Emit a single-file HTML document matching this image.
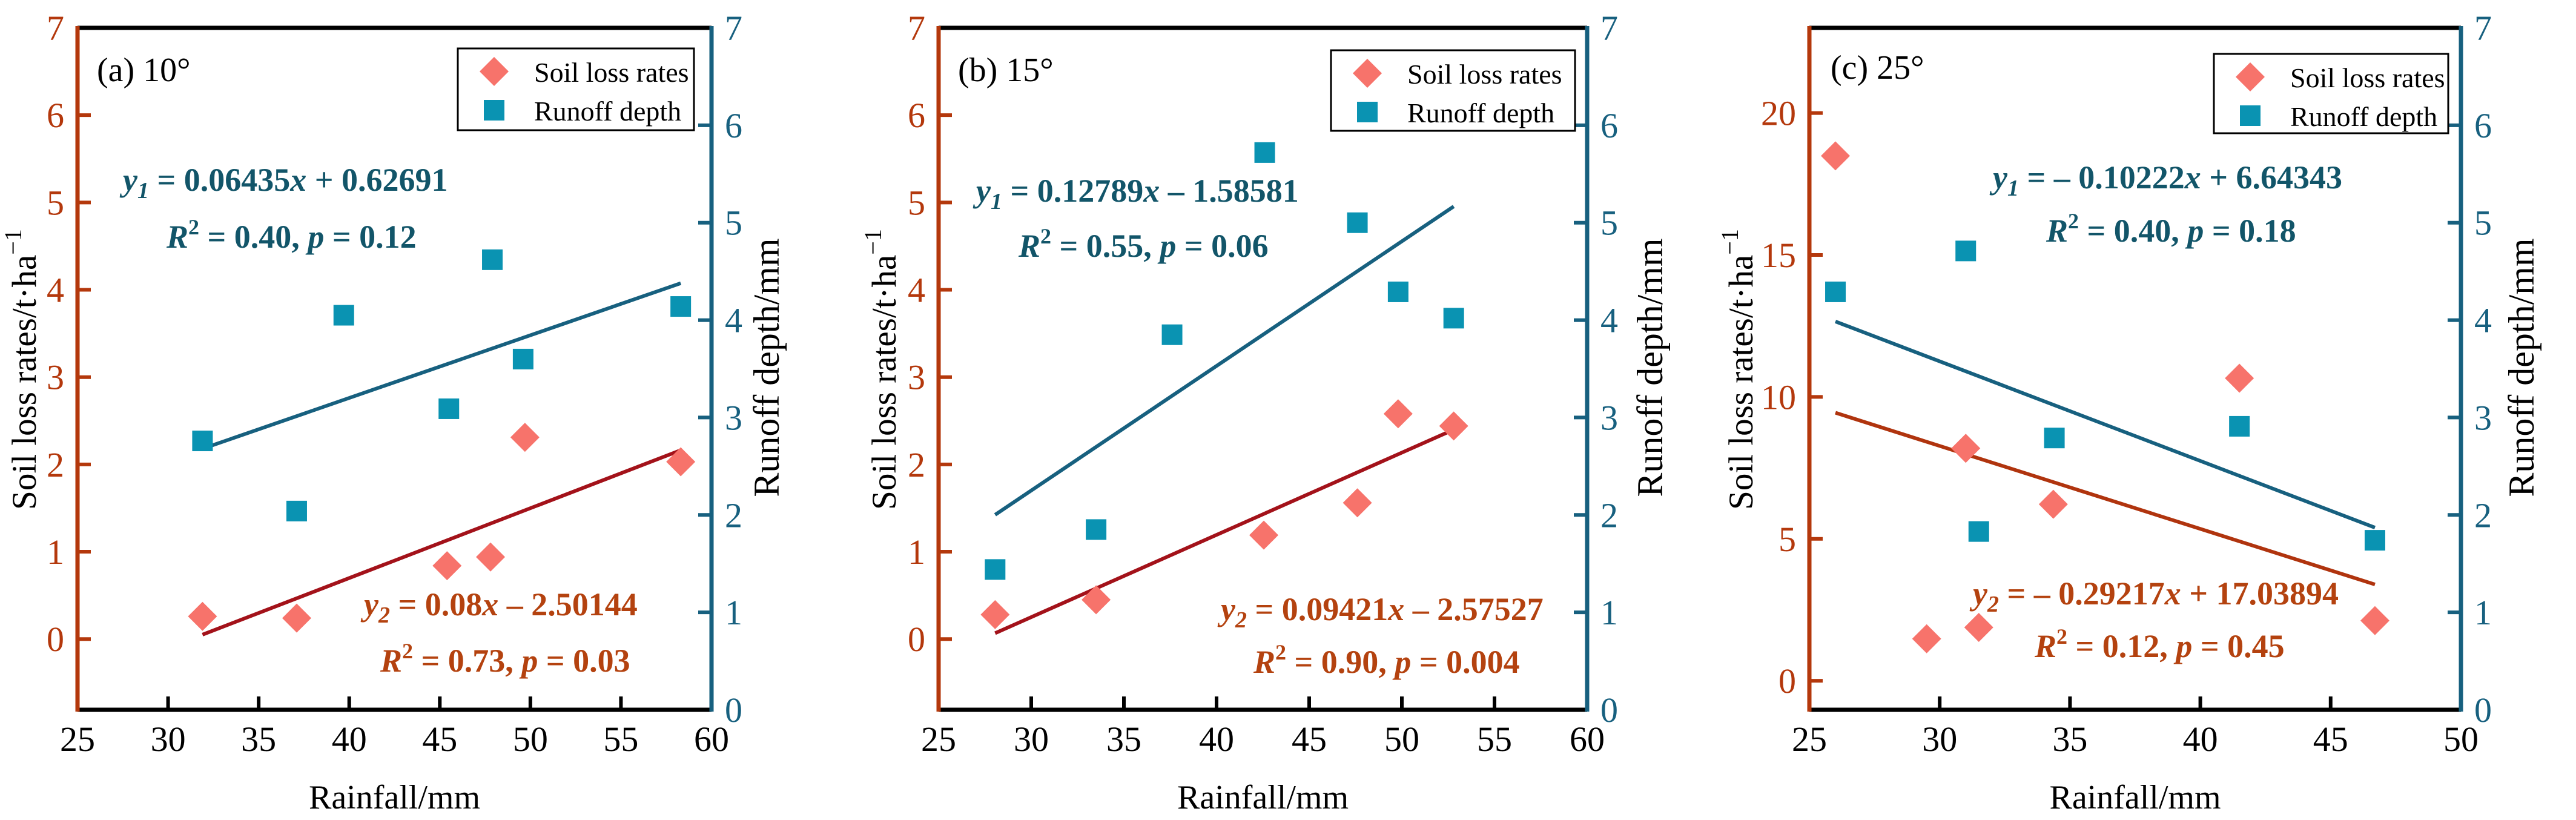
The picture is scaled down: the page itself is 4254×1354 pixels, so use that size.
<!DOCTYPE html>
<html><head><meta charset="utf-8"><style>
html,body{margin:0;padding:0;background:#fff;}
svg, svg text, svg tspan{font-family:"Liberation Serif","Times New Roman","DejaVu Serif",serif !important;}
</style></head><body>
<svg id="fig" width="4254" height="1349" viewBox="0 0 4254 1349" xmlns="http://www.w3.org/2000/svg" font-family="Liberation Serif, Times New Roman, serif"></svg>
<script>
// Panel (a) 10°
const aRainSoil = [31.9, 37.1, 45.4, 47.8, 49.7, 58.3];
const aSoil = [0.26, 0.24, 0.84, 0.94, 2.31, 2.03];
const aRainRun = [31.9, 37.1, 39.7, 45.5, 47.9, 49.6, 58.3];
const aRun = [2.76, 2.04, 4.05, 3.09, 4.62, 3.60, 4.14];
const aFitRun = [0.06435, 0.62691];
const aFitSoil = [0.08, -2.50144];
// Panel (b) 15°
const bRainSoil = [28.05, 33.5, 42.55, 47.6, 49.8, 52.8];
const bSoil = [0.28, 0.45, 1.19, 1.56, 2.58, 2.44];
const bRainRun = [28.05, 33.5, 37.6, 42.6, 47.6, 49.8, 52.8];
const bRun = [1.44, 1.85, 3.85, 5.72, 5.0, 4.29, 4.02];
const bFitRun = [0.12789, -1.58581];
const bFitSoil = [0.09421, -2.57527];
// Panel (c) 25°
const cRainSoil = [26.0, 29.5, 31.0, 31.5, 34.36, 41.5, 46.7];
const cSoil = [18.49, 1.48, 8.19, 1.88, 6.22, 10.66, 2.12];
const cRainRun = [26.0, 31.0, 31.5, 34.4, 41.5, 46.7];
const cRun = [4.29, 4.71, 1.83, 2.79, 2.91, 1.74];
const cFitRun = [-0.10222, 6.64343];
const cFitSoil = [-0.29217, 17.03894];
// Ticks
const abXTicks = [25, 30, 35, 40, 45, 50, 55, 60];
const cXTicks = [25, 30, 35, 40, 45, 50];
const abLeftTicks = [0, 1, 2, 3, 4, 5, 6, 7];
const cLeftTicks = [0, 5, 10, 15, 20];
const rightTicks = [0, 1, 2, 3, 4, 5, 6, 7];

const NS = "http://www.w3.org/2000/svg";
const svg = document.getElementById('fig');
const FONT = "Liberation Serif, Times New Roman, serif";
function mk(tag, attrs, parent, text) {
  const e = document.createElementNS(NS, tag);
  for (const k in attrs) e.setAttribute(k, attrs[k]);
  if (tag === 'text' || tag === 'tspan') e.setAttribute('font-family', FONT);
  if (text !== undefined) e.textContent = text;
  (parent || svg).appendChild(e);
  return e;
}
const ORANGE = "#b4380c", TEAL = "#17607f", DIA = "#f7736b", SQ = "#0a93b2";

const panels = [
  {id:'a', L:128, R:1175, T:46, B:1172, x0:25, x1:60, ly0:-0.81, ly1:7, xt:abXTicks, lt:abLeftTicks,
   rs:aRainSoil, s:aSoil, rr:aRainRun, r:aRun, fr:aFitRun, fs:aFitSoil, soilLine:"#a3121a",
   title:"(a) 10°", tx:160, ty:134, leg:[756,80,1146,215],
   e1:[203,315,"+ 0.62691","0.06435"], e1s:"", r1:[275,409,"0.40","0.12"],
   e2:[601,1016,"– 2.50144","0.08"], e2s:"", r2:[628,1109,"0.73","0.03"],
   yl:39, yr:1266},
  {id:'b', L:1550, R:2621, T:46, B:1172, x0:25, x1:60, ly0:-0.81, ly1:7, xt:abXTicks, lt:abLeftTicks,
   rs:bRainSoil, s:bSoil, rr:bRainRun, r:bRun, fr:bFitRun, fs:bFitSoil, soilLine:"#a3121a",
   title:"(b) 15°", tx:1582, ty:134, leg:[2198,83,2601,216],
   e1:[1612,333,"– 1.58581","0.12789"], e1s:"", r1:[1682,424,"0.55","0.06"],
   e2:[2016,1024,"– 2.57527","0.09421"], e2s:"", r2:[2070,1111,"0.90","0.004"],
   yl:1459, yr:2725},
  {id:'c', L:2988, R:4064, T:46, B:1172, x0:25, x1:50, ly0:-1.02, ly1:23, xt:cXTicks, lt:cLeftTicks,
   rs:cRainSoil, s:cSoil, rr:cRainRun, r:cRun, fr:cFitRun, fs:cFitSoil, soilLine:"#b0340e",
   title:"(c) 25°", tx:3023, ty:130, leg:[3656,89,4043,220],
   e1:[3291,311,"+ 6.64343","0.10222"], e1s:"– ", r1:[3379,399,"0.40","0.18"],
   e2:[3258,998,"+ 17.03894","0.29217"], e2s:"– ", r2:[3360,1085,"0.12","0.45"],
   yl:2874, yr:4164}
];

panels.forEach(p => {
  const g = mk('g', {});
  
  
  const xs = v => p.L + (v - p.x0) / (p.x1 - p.x0) * (p.R - p.L);
  const yl = v => p.B - (v - p.ly0) / (p.ly1 - p.ly0) * (p.B - p.T);
  const yr = v => p.B - v / 7 * (p.B - p.T);

  const xmin = Math.min(...p.rr.concat(p.rs)), xmax = Math.max(...p.rr.concat(p.rs));
  const l1 = mk('line', {x1:xs(xmin), y1:yr(p.fr[0]*xmin+p.fr[1]), x2:xs(xmax), y2:yr(p.fr[0]*xmax+p.fr[1]), stroke:"#17607f", 'stroke-width':6}, g);
  
  
  const l2 = mk('line', {x1:xs(xmin), y1:yl(p.fs[0]*xmin+p.fs[1]), x2:xs(xmax), y2:yl(p.fs[0]*xmax+p.fs[1]), stroke:p.soilLine, 'stroke-width':6}, g);
  
  

  p.rr.forEach((x, i) => {
    const cx = xs(x), cy = yr(p.r[i]);
    const s = mk('rect', {x:cx-17, y:cy-17, width:34, height:34, fill:SQ}, g);
    
    
  });
  p.rs.forEach((x, i) => {
    const cx = xs(x), cy = yl(p.s[i]);
    const d = mk('polygon', {points:`${cx},${cy-24} ${cx+24},${cy} ${cx},${cy+24} ${cx-24},${cy}`, fill:DIA}, g);
    
    
  });

  const top = mk('line', {x1:p.L, y1:p.T, x2:p.R, y2:p.T, stroke:"#000", 'stroke-width':7}, g);
   
  const bot = mk('line', {x1:p.L, y1:p.B, x2:p.R, y2:p.B, stroke:"#000", 'stroke-width':7}, g);
   
  const la = mk('line', {x1:p.L, y1:p.T-3, x2:p.L, y2:p.B+3, stroke:ORANGE, 'stroke-width':7}, g);
   
  const ra = mk('line', {x1:p.R, y1:p.T-3, x2:p.R, y2:p.B+3, stroke:TEAL, 'stroke-width':7}, g);
   

  p.xt.forEach(v => {
    const x = xs(v);
    if (v !== p.x0 && v !== p.x1) mk('line', {x1:x, y1:p.B, x2:x, y2:p.B-22, stroke:"#000", 'stroke-width':6}, g);
    const t = mk('text', {x:x, y:1240, 'font-size':58, 'text-anchor':'middle', fill:'#000'}, g, String(v));
     
  });
  p.lt.forEach(v => {
    const y = yl(v);
    if (y > p.T + 5) mk('line', {x1:p.L, y1:y, x2:p.L+22, y2:y, stroke:ORANGE, 'stroke-width':6}, g);
    const t = mk('text', {x:p.L-22, y:y+20, 'font-size':58, 'text-anchor':'end', fill:ORANGE}, g, String(v));
     
  });
  rightTicks.forEach(v => {
    const y = yr(v);
    if (v !== 0 && v !== 7) mk('line', {x1:p.R, y1:y, x2:p.R-22, y2:y, stroke:TEAL, 'stroke-width':6}, g);
    const t = mk('text', {x:p.R+22, y:y+20, 'font-size':58, 'text-anchor':'start', fill:TEAL}, g, String(v));
     
  });

  const xt = mk('text', {x:(p.L+p.R)/2, y:1335, 'font-size':56, 'text-anchor':'middle', fill:'#000'}, g, 'Rainfall/mm');
   
  const ylt = mk('text', {x:0, y:0, 'font-size':57, 'text-anchor':'middle', fill:'#000', transform:`translate(${p.yl+20},610) rotate(-90)`}, g);
   
  ylt.appendChild(document.createTextNode('Soil loss rates/t·ha'));
  mk('tspan', {dy:-24, 'font-size':40}, ylt, '−1');
  const yrt = mk('text', {x:0, y:0, 'font-size':60, 'text-anchor':'middle', fill:'#000', transform:`translate(${p.yr+20},607) rotate(-90)`}, g, 'Runoff depth/mm');
   

  const pt = mk('text', {x:p.tx, y:p.ty, 'font-size':56, fill:'#000'}, g, p.title);
   

  const [lx0, ly0, lx1, ly1] = p.leg;
  const lg = mk('g', {}, g);
   
  mk('rect', {x:lx0, y:ly0, width:lx1-lx0, height:ly1-ly0, fill:'#fff', stroke:'#000', 'stroke-width':3}, lg);
  const lcx = lx0 + 60, r1y = ly0 + 38, r2y = ly0 + 102;
  mk('polygon', {points:`${lcx},${r1y-24} ${lcx+24},${r1y} ${lcx},${r1y+24} ${lcx-24},${r1y}`, fill:DIA}, lg);
  mk('rect', {x:lcx-17, y:r2y-17, width:34, height:34, fill:SQ}, lg);
  const le1 = mk('text', {x:lx0+126, y:r1y+17, 'font-size':46, fill:'#000'}, lg, 'Soil loss rates');
   
  const le2 = mk('text', {x:lx0+126, y:r2y+17, 'font-size':46, fill:'#000'}, lg, 'Runoff depth');
   

  function eq(pos, sign, sub, color, name) {
    const t = mk('text', {x:pos[0], y:pos[1], 'font-size':54, 'font-weight':'bold', fill:color}, g);
     
    mk('tspan', {'font-style':'italic'}, t, 'y');
    mk('tspan', {'font-style':'italic', 'font-size':38, dy:12}, t, sub);
    mk('tspan', {dy:-12}, t, ' = ' + sign + pos[3]);
    mk('tspan', {'font-style':'italic'}, t, 'x');
    mk('tspan', {}, t, ' ' + pos[2]);
  }
  function r2(pos, color, name) {
    const t = mk('text', {x:pos[0], y:pos[1], 'font-size':54, 'font-weight':'bold', fill:color}, g);
     
    mk('tspan', {'font-style':'italic'}, t, 'R');
    mk('tspan', {'font-size':36, dy:-22}, t, '2');
    mk('tspan', {dy:22}, t, ' = ' + pos[2] + ', ');
    mk('tspan', {'font-style':'italic'}, t, 'p');
    mk('tspan', {}, t, ' = ' + pos[3]);
  }
  eq(p.e1, p.e1s, '1', '#125569', 'runoff-equation');
  r2(p.r1, '#125569', 'runoff-r2');
  eq(p.e2, p.e2s, '2', '#b4420f', 'soil-loss-equation');
  r2(p.r2, '#b4420f', 'soil-loss-r2');
});
</script>
</body></html>
